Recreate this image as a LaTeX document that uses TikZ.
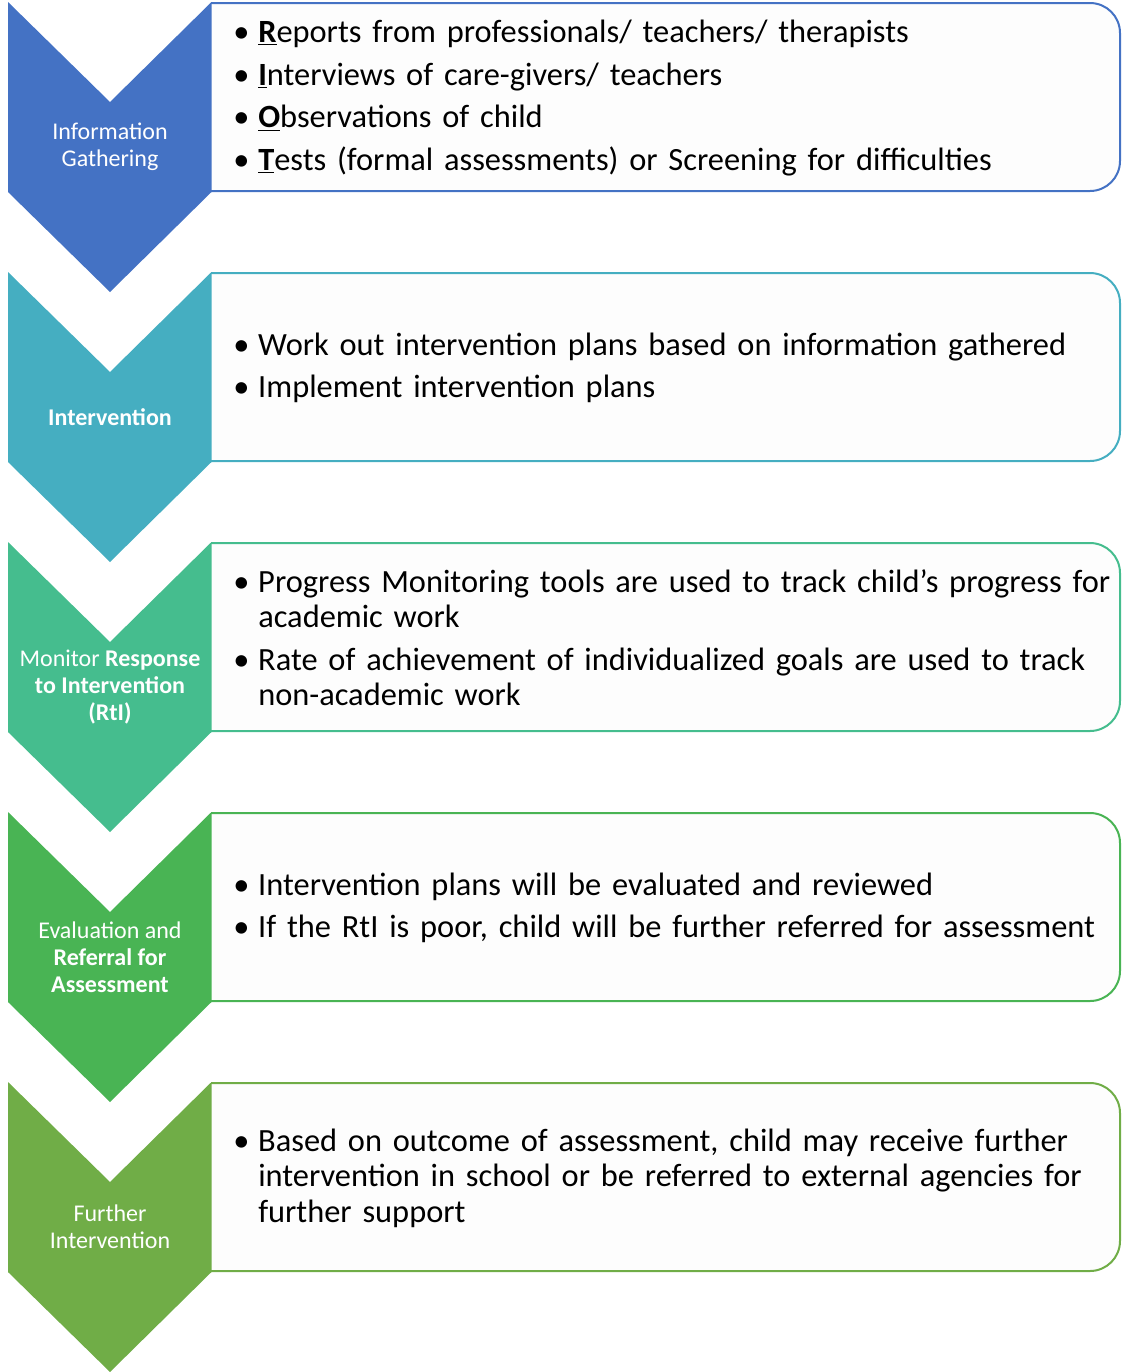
\documentclass[tikz,border=0pt]{standalone}
\usepackage{fontspec}
\setmainfont{Carlito}

\definecolor{c1}{HTML}{4472C4}
\definecolor{c2}{HTML}{45AEC1}
\definecolor{c3}{HTML}{45BD8E}
\definecolor{c4}{HTML}{49B454}
\definecolor{c5}{HTML}{70AD47}
\definecolor{boxfill}{HTML}{FDFDFD}

% one bulleted paragraph with a hanging indent
\newcommand\bitem[1]{\par\hangindent=18.75pt\hangafter=1\noindent\makebox[18.75pt][l]{•}#1\par}

\tikzset{
  lab/.style={text=white, inner sep=0pt, align=center,
              font=\fontsize{18}{20.25}\selectfont},
  body/.style={anchor=west, inner sep=0pt, text width=660pt,
               font=\fontsize{24.3}{26.6}\selectfont\raggedright\setlength\parskip{5.25pt}},
  stepbox/.style={fill=boxfill, draw=#1, line width=1.5pt, rounded corners=22.5pt},
}

% #1 name, #2 top, #3 colour, #4 chevron label, #5 bullet text
\newcommand\stage[5]{%
  \filldraw[stepbox=#3] (211,#2+1) -- (1120,#2+1) -- (1120,#2+189) -- (211,#2+189);
  \fill[#3] (8,#2) -- (110,#2+100) -- (211.5,#2) -- (211.5,#2+190)
            -- (110,#2+290) -- (8,#2+190) -- cycle;
  \node[lab] (#1-lab) at (110,#2+145) {#4};
  \node[body] (#1-body) at (233,#2+86) {#5};
}

\begin{document}
\begin{tikzpicture}[x=0.75pt, y=-0.75pt]
\useasboundingbox (0,0) rectangle (1130,1372);

\stage{gather}{2}{c1}{Information\\Gathering}{%
  \bitem{\underline{\textbf{R}}eports from professionals/ teachers/ therapists}
  \bitem{\underline{\textbf{I}}nterviews of care-givers/ teachers}
  \bitem{\underline{\textbf{O}}bservations of child}
  \bitem{\underline{\textbf{T}}ests (formal assessments) or Screening for difficulties}}

\stage{interv}{272}{c2}{\textbf{Intervention}}{%
  \bitem{Work out intervention plans based on information gathered}
  \bitem{Implement intervention plans}}

\stage{monitor}{542}{c3}{Monitor \textbf{Response}\\\textbf{to Intervention}\\\textbf{(RtI)}}{%
  \bitem{Progress Monitoring tools are used to track child’s progress for\newline academic work}
  \bitem{Rate of achievement of individualized goals are used to track\newline non-academic work}}

\stage{evalref}{812}{c4}{Evaluation and\\\textbf{Referral for}\\\textbf{Assessment}}{%
  \bitem{Intervention plans will be evaluated and reviewed}
  \bitem{If the RtI is poor, child will be further referred for assessment}}

\stage{further}{1082}{c5}{Further\\Intervention}{%
  \bitem{Based on outcome of assessment, child may receive further\newline intervention in school or be referred to external agencies for\newline further support}}

\end{tikzpicture}
\end{document}
